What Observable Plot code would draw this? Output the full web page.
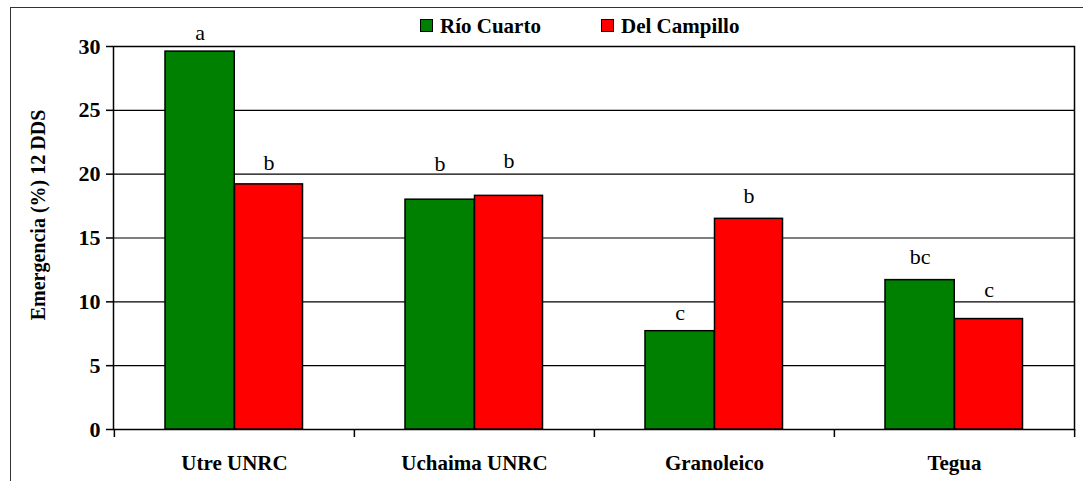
<!DOCTYPE html>
<html>
<head>
<meta charset="utf-8">
<script src="https://cdn.jsdelivr.net/npm/d3@7"></script>
<script src="https://cdn.jsdelivr.net/npm/@observablehq/plot@0.6"></script>
<style>
  html, body { margin: 0; padding: 0; background: #fff; overflow: hidden; }
  #wrap { position: relative; width: 1083px; height: 481px; overflow: hidden; font-family: "Liberation Serif", "Times New Roman", Times, serif; }
  #chart svg, #chart svg text { font-family: "Liberation Serif", "Times New Roman", Times, serif !important; }
  #frame { position: absolute; left: 10px; top: 7px; width: 1200px; height: 600px; border-top: 1.5px solid #333; border-left: 1.5px solid #333; box-sizing: border-box; pointer-events: none; }
  #legend { position: absolute; top: 14px; left: 0; font-size: 21px; font-weight: bold; line-height: 24px; }
  .item { position: absolute; white-space: nowrap; }
  .sw { position: absolute; top: 5px; width: 11px; height: 11px; border: 1px solid #000; }
  #chart { position: absolute; left: 0; top: 0; }
</style>
</head>
<body>
<div id="wrap">
  <div id="chart"></div>
  <div id="frame"></div>
  <div id="legend"></div>
</div>
<script>
const categories = ["Utre UNRC", "Uchaima UNRC", "Granoleico", "Tegua"];
const seriesNames = ["Río Cuarto", "Del Campillo"];
const seriesColors = ["#008000", "#FF0000"];
const rioCuarto = [29.6, 18.0, 7.7, 11.7];
const delCampillo = [19.2, 18.3, 16.5, 8.65];
const rioCuartoLetters = ["a", "b", "c", "bc"];
const delCampilloLetters = ["b", "b", "b", "c"];
const rioCuartoLetterAt = [31.1, 20.8, 9.1, 13.5];
const delCampilloLetterAt = [20.9, 21.0, 18.3, 10.9];
const yTicks = [0, 5, 10, 15, 20, 25, 30];
const yTitle = "Emergencia (%) 12 DDS";

const rc = categories.map((c, i) => ({cat: c, series: seriesNames[0], value: rioCuarto[i], letter: rioCuartoLetters[i], ly: rioCuartoLetterAt[i]}));
const dc = categories.map((c, i) => ({cat: c, series: seriesNames[1], value: delCampillo[i], letter: delCampilloLetters[i], ly: delCampilloLetterAt[i]}));

const W = 1083, H = 481;
const mL = 113, mR = 9, mT = 46, mB = 52;
const bw = (W - mL - mR) / categories.length;
const serif = "'Liberation Serif', 'Times New Roman', Times, serif";

const plot = Plot.plot({
  width: W, height: H,
  marginLeft: mL, marginRight: mR, marginTop: mT, marginBottom: mB,
  style: `font-family: ${serif}; color: #000; background: transparent;`,
  x: {domain: categories, padding: 0, axis: null},
  y: {domain: [0, 30], axis: null},
  color: {domain: seriesNames, range: seriesColors},
  marks: [
    Plot.gridY(yTicks, {stroke: "#000", strokeOpacity: 1, strokeWidth: 1.2}),
    Plot.frame({stroke: "#000", strokeWidth: 1.5}),
    Plot.barY(rc, {x: "cat", y: "value", fill: "series", stroke: "#000", strokeWidth: 1.5, insetLeft: 51, insetRight: bw - 120.5}),
    Plot.barY(dc, {x: "cat", y: "value", fill: "series", stroke: "#000", strokeWidth: 1.5, insetLeft: 120.5, insetRight: 51.5}),
    Plot.text(rc, {x: "cat", y: "ly", text: "letter", dx: -34.5, fontSize: 22, lineAnchor: "middle", fill: "#000", fontFamily: serif}),
    Plot.text(dc, {x: "cat", y: "ly", text: "letter", dx: 34.5, fontSize: 22, lineAnchor: "middle", fill: "#000", fontFamily: serif}),
    Plot.ruleX(categories, {x: d => d, dx: -bw / 2, y1: 0, y2: -0.63, stroke: "#000", strokeWidth: 1.5}),
    Plot.ruleX(categories.slice(-1), {x: d => d, dx: bw / 2, y1: 0, y2: -0.63, stroke: "#000", strokeWidth: 1.5}),
    Plot.axisY({ticks: yTicks, tickSize: 7, tickPadding: 6, fontSize: 22, fontWeight: "bold", fontFamily: serif, label: null, strokeWidth: 1.5}),
    Plot.axisX({tickSize: 0, tickPadding: 26, fontSize: 21, fontWeight: "bold", fontFamily: serif, label: null}),
    Plot.text([yTitle], {frameAnchor: "left", rotate: -90, dx: -75, dy: -23, textAnchor: "middle", fontSize: 20, fontWeight: "bold", fontFamily: serif, lineAnchor: "middle", fill: "#000"})
  ]
});
document.getElementById("chart").appendChild(plot);

const legend = document.getElementById("legend");
const lx = [420, 601];
seriesNames.forEach((name, i) => {
  const sw = document.createElement("span");
  sw.className = "sw";
  sw.style.left = lx[i] + "px";
  sw.style.background = seriesColors[i];
  legend.appendChild(sw);
  const t = document.createElement("span");
  t.className = "item";
  t.style.left = (lx[i] + 20) + "px";
  t.textContent = name;
  legend.appendChild(t);
});
</script>
</body>
</html>
